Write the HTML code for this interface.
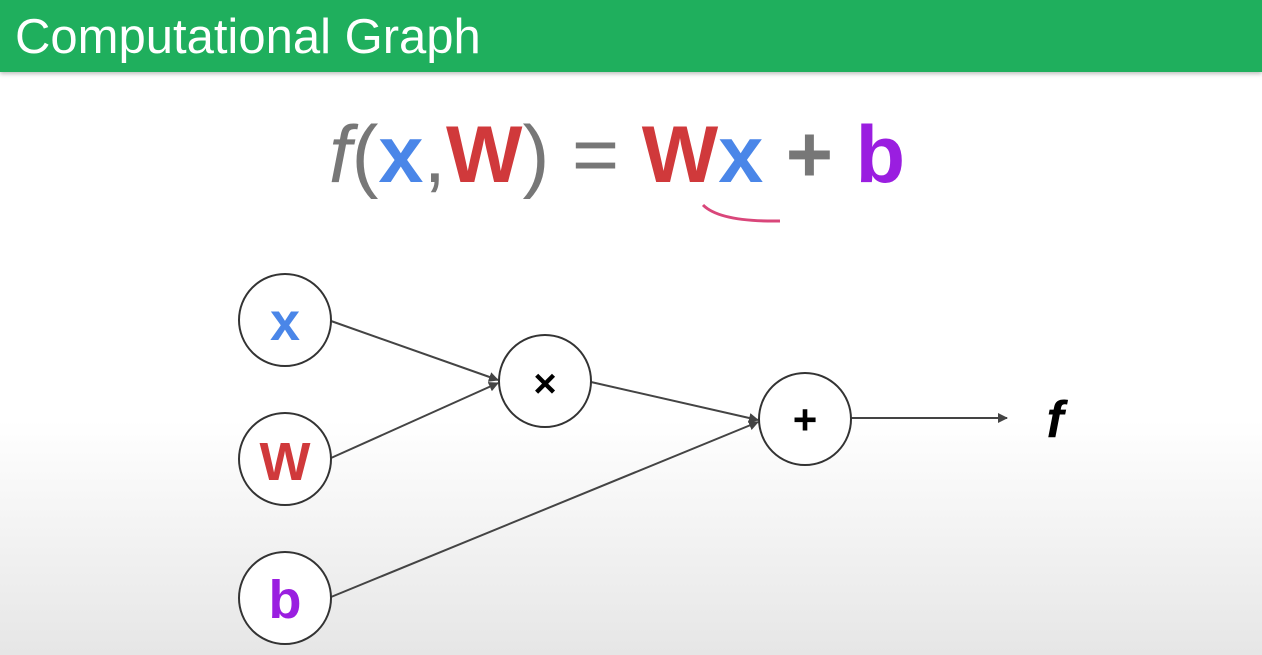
<!DOCTYPE html>
<html><head><meta charset="utf-8"><style>
html,body{margin:0;padding:0;}
body{width:1262px;height:655px;overflow:hidden;background:linear-gradient(#fff 0px,#fff 420px,#e6e6e6 655px);font-family:"Liberation Sans",Arial,sans-serif;position:relative;}
#hdr{position:absolute;left:0;top:0;width:1262px;height:72px;background:#1faf5d;box-shadow:0 2px 4px rgba(0,0,0,.25);}
#title{position:absolute;left:15px;top:10px;color:#fff;font-size:49px;line-height:54px;}
svg{position:absolute;left:0;top:0;}
</style></head><body>
<div id="hdr"><div id="title">Computational Graph</div></div>
<svg width="1262" height="655">
<defs><marker id="ah" markerWidth="10" markerHeight="10" refX="9" refY="5" orient="auto" markerUnits="userSpaceOnUse"><path d="M0,0 L10,5 L0,10 z" fill="#444"/></marker></defs>
<text x="617" y="182" text-anchor="middle" font-size="81" font-family="Liberation Sans, sans-serif"><tspan fill="#777" font-style="italic">f</tspan><tspan fill="#777">(</tspan><tspan fill="#4a86e8" font-weight="bold">x</tspan><tspan fill="#777">,</tspan><tspan fill="#d0393b" font-weight="bold">W</tspan><tspan fill="#777">) = </tspan><tspan fill="#d0393b" font-weight="bold">W</tspan><tspan fill="#4a86e8" font-weight="bold">x</tspan><tspan fill="#777" font-weight="bold"> + </tspan><tspan fill="#9a1ee0" font-weight="bold">b</tspan></text>
<path d="M703,205 Q720,222 780,221" stroke="#d9467a" stroke-width="3" fill="none"/>
<g stroke="#444" stroke-width="2" fill="none" marker-end="url(#ah)">
<line x1="331" y1="321" x2="498" y2="380"/>
<line x1="331" y1="458" x2="498" y2="383"/>
<line x1="591" y1="382" x2="758" y2="420"/>
<line x1="331" y1="597" x2="758" y2="422"/>
<line x1="851" y1="418" x2="1007" y2="418"/>
</g>
<g fill="#fff" stroke="#333" stroke-width="2">
<circle cx="285" cy="320" r="46"/>
<circle cx="285" cy="459" r="46"/>
<circle cx="285" cy="598" r="46"/>
<circle cx="545" cy="381" r="46"/>
<circle cx="805" cy="419" r="46"/>
</g>
<g font-weight="bold" text-anchor="middle" font-family="Liberation Sans, sans-serif">
<text x="285" y="340" font-size="54" fill="#4a86e8">x</text>
<text x="285" y="480" font-size="54" fill="#d0393b">W</text>
<text x="285" y="618" font-size="54" fill="#9a1ee0">b</text>
<text x="545" y="397" font-size="40" fill="#000">×</text>
<text x="805" y="434" font-size="42" fill="#000">+</text>
<text x="1055" y="437" font-size="52" font-style="italic" fill="#000">f</text>
</g>
</svg>
</body></html>
